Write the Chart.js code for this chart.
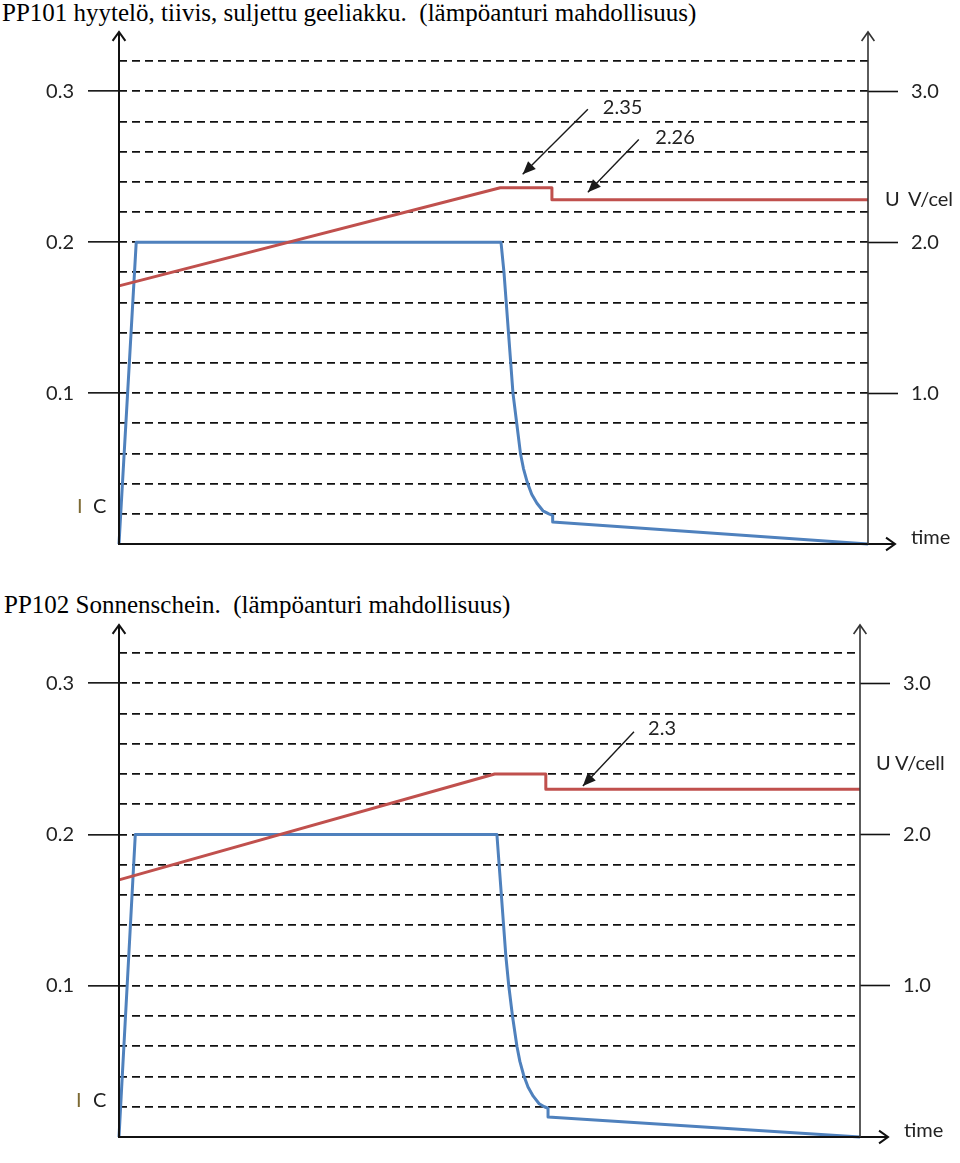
<!DOCTYPE html>
<html>
<head>
<meta charset="utf-8">
<script src="https://cdn.jsdelivr.net/npm/chart.js@4.4.1/dist/chart.umd.min.js"></script>
<style>
  html, body { margin: 0; padding: 0; background: #fff; }
  body { width: 960px; height: 1163px; position: relative; overflow: hidden; }
  .ttl { position: absolute; font-family: "Liberation Serif", "Times New Roman", serif; font-size: 25px; line-height: 25px; color: #000; white-space: pre; }
  canvas { position: absolute; left: 0; }
</style>
</head>
<body>
<div class="ttl" style="left:2px;top:0px">PP101 hyytelö, tiivis, suljettu geeliakku.  (lämpöanturi mahdollisuus)</div>
<canvas id="c1" width="960" height="540" style="top:30px"></canvas>
<div class="ttl" style="left:4px;top:592px">PP102 Sonnenschein.  (lämpöanturi mahdollisuus)</div>
<canvas id="c2" width="960" height="543" style="top:620px"></canvas>

<script>
// ===== Data =====
// dashed grid (current, A/C) and labelled ticks
const GRID_I = [0, 0.02, 0.04, 0.06, 0.08, 0.1, 0.12, 0.14, 0.16, 0.18, 0.2, 0.22, 0.24, 0.26, 0.28, 0.3, 0.32];
const TICKS_I = [0.1, 0.2, 0.3];
const TICKS_U = [1.0, 2.0, 3.0];

// PP101 - voltage (red) and current (blue), time in % of span
const P1_RED_T = [0, 50.9, 57.8, 57.8, 100];
const P1_RED_U = [1.71, 2.36, 2.36, 2.28, 2.28];
const P1_BLUE_T = [0, 2.3, 51.0, 51.4, 51.7, 52.0, 52.3, 52.6, 53.1, 53.6, 54.0, 54.5, 55.1, 55.8, 56.6, 57.4, 57.9, 57.9, 100];
const P1_BLUE_I = [0, 0.2, 0.2, 0.18, 0.16, 0.14, 0.12, 0.10, 0.08, 0.06, 0.05, 0.041, 0.033, 0.027, 0.022, 0.02, 0.019, 0.0145, 0];

// PP102
const P2_RED_T = [0, 50.7, 57.6, 57.6, 100];
const P2_RED_U = [1.70, 2.40, 2.40, 2.30, 2.30];
const P2_BLUE_T = [0, 2.2, 51.0, 51.3, 51.6, 51.9, 52.2, 52.6, 53.1, 53.7, 54.1, 54.6, 55.2, 55.9, 56.7, 57.4, 57.9, 57.9, 100];
const P2_BLUE_I = [0, 0.2, 0.2, 0.18, 0.16, 0.14, 0.12, 0.10, 0.08, 0.06, 0.05, 0.041, 0.033, 0.027, 0.022, 0.02, 0.019, 0.0132, 0];

// callouts: text, label pos, arrow from, arrow to  (time, volts)
const P1_NOTES = [
  { text: "2.35", at: [64.6, 2.89], from: [62.6, 2.88], to: [53.9, 2.45] },
  { text: "2.26", at: [71.6, 2.69], from: [69.4, 2.68], to: [62.6, 2.33] }
];
const P2_NOTES = [
  { text: "2.3", at: [71.4, 2.70], from: [69.5, 2.68], to: [62.6, 2.32] }
];

const RED = "#c0504d";
const BLUE = "#4f81bd";
const INK = "#111";
const FONT = "Lato, 'Open Sans', sans-serif";
const FSIZE = 20;

const zip = (xs, ys) => xs.map((x, i) => ({ x, y: ys[i] }));

// ===== Drawing helpers =====
function seg(ctx, x0, y0, x1, y1) {
  ctx.beginPath(); ctx.moveTo(x0, y0); ctx.lineTo(x1, y1); ctx.stroke();
}
function chevron(ctx, tx, ty, ang, len) {
  // open arrow head at tip (tx,ty), ang = direction the arrow points
  const a1 = ang + Math.PI - 0.62, a2 = ang + Math.PI + 0.62;
  ctx.beginPath();
  ctx.moveTo(tx + Math.cos(a1) * len, ty + Math.sin(a1) * len);
  ctx.lineTo(tx, ty);
  ctx.lineTo(tx + Math.cos(a2) * len, ty + Math.sin(a2) * len);
  ctx.stroke();
}
function solidHead(ctx, x0, y0, x1, y1, len, half) {
  const ang = Math.atan2(y1 - y0, x1 - x0);
  const bx = x1 - Math.cos(ang) * len, by = y1 - Math.sin(ang) * len;
  ctx.beginPath();
  ctx.moveTo(x1, y1);
  ctx.lineTo(bx + Math.sin(ang) * half, by - Math.cos(ang) * half);
  ctx.lineTo(bx - Math.sin(ang) * half, by + Math.cos(ang) * half);
  ctx.closePath(); ctx.fill();
}

function makeArt(o) {
  return {
    id: "art",
    afterDraw(chart) {
      const { ctx, chartArea: a, scales } = chart;
      const sx = scales.x, sU = scales.y2, sI = scales.y;
      ctx.save();
      ctx.lineCap = "butt";

      // axes with arrows
      ctx.strokeStyle = INK; ctx.lineWidth = 2;
      seg(ctx, a.left, a.bottom + 1, a.left, a.top - o.arrowUp);
      chevron(ctx, a.left, a.top - o.arrowUp, -Math.PI / 2, 11);
      seg(ctx, a.left - 1, a.bottom, a.right + o.arrowRight, a.bottom);
      chevron(ctx, a.right + o.arrowRight, a.bottom, 0, 11);
      ctx.strokeStyle = "#333"; ctx.lineWidth = 1.6;
      seg(ctx, a.right, a.bottom, a.right, a.top - o.arrowUp);
      chevron(ctx, a.right, a.top - o.arrowUp, -Math.PI / 2, 11);

      // callouts
      ctx.strokeStyle = "#1a1a1a"; ctx.fillStyle = "#1a1a1a"; ctx.lineWidth = 1.4;
      ctx.font = FSIZE + "px " + FONT; ctx.textAlign = "left"; ctx.textBaseline = "middle";
      o.notes.forEach(n => {
        const x0 = sx.getPixelForValue(n.from[0]), y0 = sU.getPixelForValue(n.from[1]);
        const x1 = sx.getPixelForValue(n.to[0]), y1 = sU.getPixelForValue(n.to[1]);
        seg(ctx, x0, y0, x1, y1);
        solidHead(ctx, x0, y0, x1, y1, 13, 5.5);
        ctx.fillStyle = "#222";
        ctx.fillText(n.text, sx.getPixelForValue(n.at[0]), sU.getPixelForValue(n.at[1]));
        ctx.fillStyle = "#1a1a1a";
      });

      // axis names
      const yIC = sI.getPixelForValue(o.icAt);
      ctx.fillStyle = "#7d6a34"; ctx.fillText("I", a.left - o.iOff, yIC);
      ctx.fillStyle = "#222"; ctx.fillText("C", a.left - o.cOff, yIC);
      const yU = sU.getPixelForValue(o.uAt);
      ctx.fillText("U", a.right + o.uOff, yU);
      ctx.fillText(o.uUnit, a.right + o.vOff, yU);
      ctx.fillText("time", a.right + o.timeOff, a.bottom - 6);
      ctx.restore();
    }
  };
}

function buildChart(id, o) {
  return new Chart(document.getElementById(id), {
    type: "line",
    data: {
      datasets: [
        { data: zip(o.redT, o.redU), yAxisID: "y2", borderColor: RED, borderWidth: 3, pointRadius: 0, tension: 0, clip: false, borderJoinStyle: "round" },
        { data: zip(o.blueT, o.blueI), yAxisID: "y", borderColor: BLUE, borderWidth: 3, pointRadius: 0, tension: 0, clip: false, borderJoinStyle: "round" }
      ]
    },
    options: {
      responsive: false,
      animation: false,
      events: [],
      layout: { padding: { top: o.padTop, bottom: o.padBottom, left: 0, right: 0 } },
      plugins: { legend: { display: false }, tooltip: { enabled: false } },
      scales: {
        x: { type: "linear", min: 0, max: 100, display: false },
        y: {
          type: "linear", position: "left", min: 0, max: 0.32,
          afterBuildTicks: s => { s.ticks = GRID_I.map(v => ({ value: v })); },
          afterFit: s => { s.width = o.leftW; },
          border: { display: false, dash: [8, 5] },
          grid: {
            color: c => (c.tick && c.tick.value === 0) ? "rgba(0,0,0,0)" : INK,
            lineWidth: 1.7,
            tickLength: 31,
            tickWidth: 1.6,
            tickBorderDash: [],
            tickColor: c => (c.tick && TICKS_I.includes(c.tick.value)) ? INK : "rgba(0,0,0,0)"
          },
          ticks: {
            autoSkip: false, padding: 14, color: "#222",
            font: { family: FONT, size: FSIZE },
            callback: v => TICKS_I.includes(v) ? v.toFixed(1) : ""
          }
        },
        y2: {
          type: "linear", position: "right", min: 0, max: 3.2,
          afterBuildTicks: s => { s.ticks = TICKS_U.map(v => ({ value: v })); },
          afterFit: s => { s.width = o.rightW; },
          border: { display: false },
          grid: { drawOnChartArea: false, tickLength: 30, tickWidth: 1.6, tickColor: INK },
          ticks: {
            autoSkip: false, padding: 13, color: "#222",
            font: { family: FONT, size: FSIZE },
            callback: v => v.toFixed(1)
          }
        }
      }
    },
    plugins: [makeArt(o)]
  });
}

buildChart("c1", {
  redT: P1_RED_T, redU: P1_RED_U, blueT: P1_BLUE_T, blueI: P1_BLUE_I, notes: P1_NOTES,
  padTop: 31, padBottom: 23, leftW: 119, rightW: 92,
  arrowUp: 29, arrowRight: 27,
  icAt: 0.025, iOff: 42, cOff: 26,
  uAt: 2.28, uUnit: "V/cel", uOff: 17, vOff: 40, timeOff: 43
});

buildChart("c2", {
  redT: P2_RED_T, redU: P2_RED_U, blueT: P2_BLUE_T, blueI: P2_BLUE_I, notes: P2_NOTES,
  padTop: 33, padBottom: 13, leftW: 119, rightW: 100,
  arrowUp: 28, arrowRight: 28,
  icAt: 0.024, iOff: 43, cOff: 26,
  uAt: 2.47, uUnit: "V/cell", uOff: 16, vOff: 35, timeOff: 44
});
</script>
</body>
</html>
